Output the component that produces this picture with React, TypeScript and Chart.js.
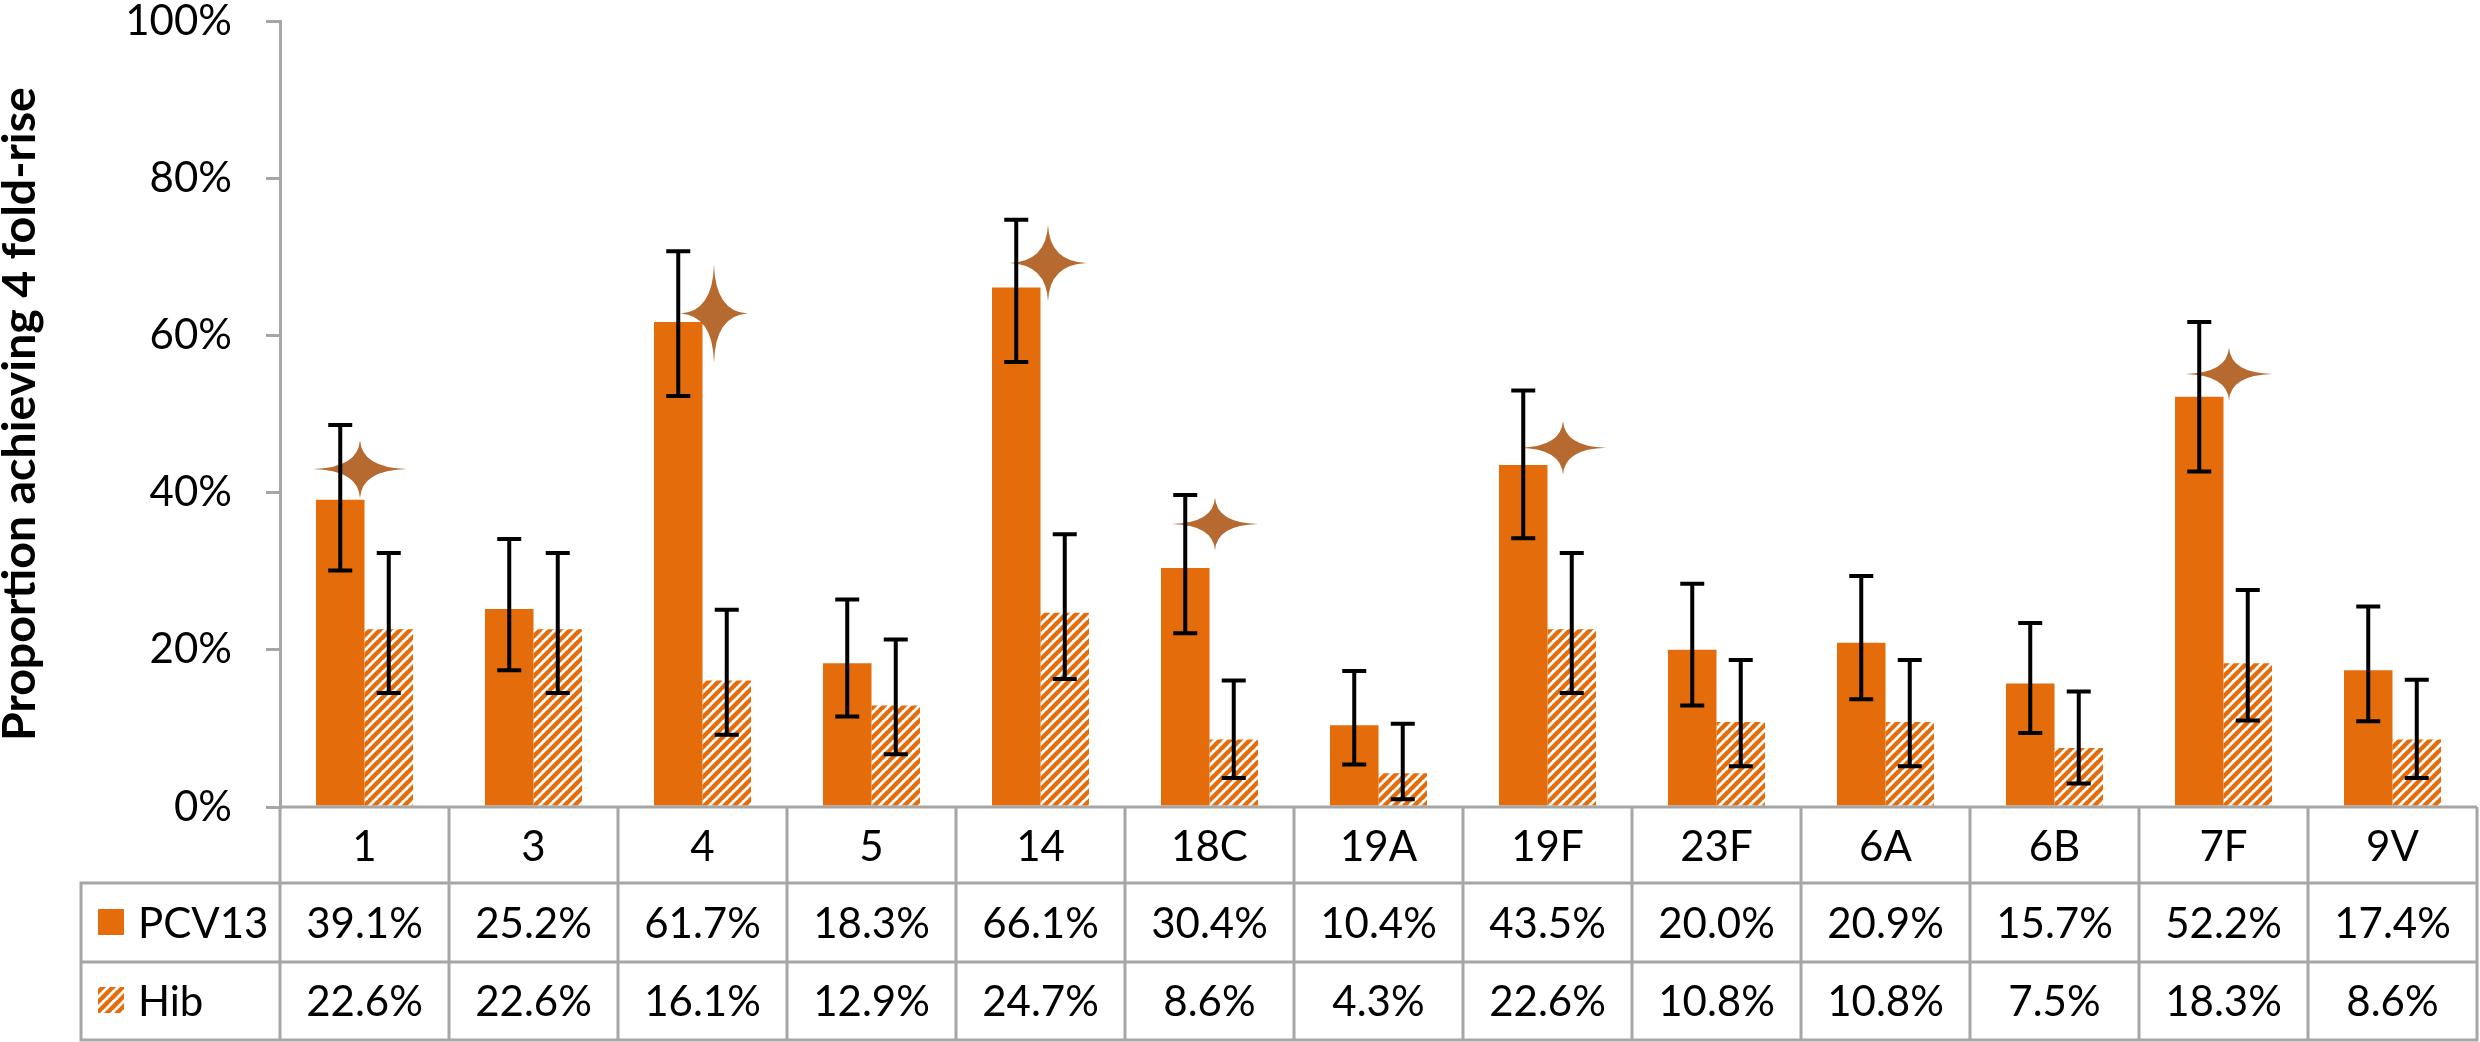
import React, { useEffect, useRef } from 'react';
import { Chart, registerables } from 'chart.js';

Chart.register(...registerables);

// ---------------- data ----------------
const categories = ['1', '3', '4', '5', '14', '18C', '19A', '19F', '23F', '6A', '6B', '7F', '9V'];
const seriesNames = ['PCV13', 'Hib'];
const pcv13 = [39.1, 25.2, 61.7, 18.3, 66.1, 30.4, 10.4, 43.5, 20.0, 20.9, 15.7, 52.2, 17.4];
const hib = [22.6, 22.6, 16.1, 12.9, 24.7, 8.6, 4.3, 22.6, 10.8, 10.8, 7.5, 18.3, 8.6];
const pcv13Low = [30.1, 17.4, 52.3, 11.5, 56.6, 22.1, 5.4, 34.2, 12.9, 13.7, 9.4, 42.7, 10.9];
const pcv13High = [48.6, 34.1, 70.7, 26.4, 74.7, 39.7, 17.3, 53.0, 28.4, 29.4, 23.4, 61.7, 25.5];
const hibLow = [14.5, 14.5, 9.2, 6.7, 16.3, 3.7, 1.0, 14.5, 5.2, 5.2, 3.0, 11.0, 3.7];
const hibHigh = [32.3, 32.3, 25.1, 21.3, 34.7, 16.1, 10.6, 32.3, 18.7, 18.7, 14.7, 27.6, 16.2];
const yTicks = [0, 20, 40, 60, 80, 100];
const starCategories = [0, 2, 4, 5, 7, 11];
const starValues = [43.0, 62.8, 69.2, 36.0, 45.7, 55.1];
const yTitle = 'Proportion achieving 4 fold-rise';

// ---------------- styles ----------------
const ORANGE = '#E46C0A';
const STAR = '#B66A2F';
const GRID = '#A6A6A6';
const FONT = 'Lato';
const FS = 42;
// star shapes (shift from category centre, width, height) in px
const starShift = [-4.5, 11.5, 7.5, 5.5, 15.5, 5.5];
const starW = [94, 67, 77, 86, 86, 87];
const starH = [58, 98, 77, 53, 54, 53];

function makeHatch(): CanvasPattern | string {
  const p = 10;
  const c = document.createElement('canvas');
  c.width = p;
  c.height = p;
  const g = c.getContext('2d');
  if (!g) return ORANGE;
  g.fillStyle = '#ffffff';
  g.fillRect(0, 0, p, p);
  g.strokeStyle = ORANGE;
  g.lineWidth = 4.4;
  g.beginPath();
  for (const k of [-1, 0, 1]) {
    g.moveTo(k * p - 1, p + 1);
    g.lineTo(k * p + p + 1, -1);
  }
  g.stroke();
  const pat = g.createPattern(c, 'repeat');
  return pat || ORANGE;
}

function drawStar(ctx: CanvasRenderingContext2D, cx: number, cy: number, w: number, h: number) {
  const a = w / 2, b = h / 2;
  const k = 0.02;
  ctx.beginPath();
  ctx.moveTo(cx, cy - b);
  ctx.quadraticCurveTo(cx + w * k, cy - h * k, cx + a, cy);
  ctx.quadraticCurveTo(cx + w * k, cy + h * k, cx, cy + b);
  ctx.quadraticCurveTo(cx - w * k, cy + h * k, cx - a, cy);
  ctx.quadraticCurveTo(cx - w * k, cy - h * k, cx, cy - b);
  ctx.closePath();
  ctx.fill();
}

export default function App() {
  const ref = useRef<HTMLCanvasElement | null>(null);

  useEffect(() => {
    document.body.style.margin = '0';
    const canvas = ref.current;
    if (!canvas) return;
    const hatch = makeHatch();

    const overlay = {
      id: 'overlay',
      afterDatasetsDraw(chart: any) {
        const ctx: CanvasRenderingContext2D = chart.ctx;
        const ys = chart.scales.y;
        const xs = chart.scales.x;
        ctx.save();
        // stars
        ctx.fillStyle = STAR;
        starCategories.forEach((ci, k) => {
          const cx = xs.getPixelForValue(ci) + starShift[k];
          const cy = ys.getPixelForValue(starValues[k]);
          drawStar(ctx, cx, cy, starW[k], starH[k]);
        });
        // error bars
        ctx.strokeStyle = '#000000';
        ctx.lineWidth = 4;
        const cap = 12;
        const drawErr = (meta: any, lo: number[], hi: number[]) => {
          meta.data.forEach((el: any, i: number) => {
            const x = el.x;
            const yl = ys.getPixelForValue(lo[i]);
            const yh = ys.getPixelForValue(hi[i]);
            ctx.beginPath();
            ctx.moveTo(x, yl);
            ctx.lineTo(x, yh);
            ctx.moveTo(x - cap, yh);
            ctx.lineTo(x + cap, yh);
            ctx.moveTo(x - cap, yl);
            ctx.lineTo(x + cap, yl);
            ctx.stroke();
          });
        };
        drawErr(chart.getDatasetMeta(0), pcv13Low, pcv13High);
        drawErr(chart.getDatasetMeta(1), hibLow, hibHigh);
        ctx.restore();
      },
      afterDraw(chart: any) {
        const ctx: CanvasRenderingContext2D = chart.ctx;
        const area = chart.chartArea;
        const xs = chart.scales.x;
        const n = categories.length;
        const cw = (area.right - area.left) / n;
        const top = area.bottom;
        const r1 = top + 76;
        const r2 = r1 + 79;
        const r3 = r2 + 78;
        const tableLeft = 81;
        ctx.save();
        ctx.strokeStyle = GRID;
        ctx.lineWidth = 3;
        ctx.beginPath();
        // horizontal lines
        ctx.moveTo(area.left, top);
        ctx.lineTo(area.right, top);
        ctx.moveTo(tableLeft - 1.5, r1);
        ctx.lineTo(area.right, r1);
        ctx.moveTo(tableLeft - 1.5, r2);
        ctx.lineTo(area.right, r2);
        ctx.moveTo(tableLeft - 1.5, r3);
        ctx.lineTo(area.right + 1.5, r3);
        // vertical lines
        for (let i = 0; i <= n; i++) {
          const x = area.left + i * cw;
          ctx.moveTo(x, top);
          ctx.lineTo(x, r3);
        }
        ctx.moveTo(tableLeft, r1);
        ctx.lineTo(tableLeft, r3);
        ctx.stroke();

        // texts
        ctx.fillStyle = '#000000';
        ctx.font = `${FS}px ${FONT}`;
        ctx.textAlign = 'center';
        ctx.textBaseline = 'alphabetic';
        categories.forEach((c, i) => {
          const x = xs.getPixelForValue(i);
          ctx.fillText(c, x, top + 54);
          ctx.fillText(`${pcv13[i].toFixed(1)}%`, x, r1 + 55);
          ctx.fillText(`${hib[i].toFixed(1)}%`, x, r2 + 54);
        });
        // legend keys
        ctx.textAlign = 'left';
        ctx.fillText(seriesNames[0], 138, r1 + 55);
        ctx.fillText(seriesNames[1], 138, r2 + 54);
        ctx.fillStyle = ORANGE;
        ctx.fillRect(98, r1 + 26, 26, 26);
        ctx.fillStyle = hatch as any;
        ctx.fillRect(98, r2 + 25, 26, 26);

        // y-axis title
        ctx.fillStyle = '#000000';
        let fs = 40;
        ctx.font = `bold ${fs}px ${FONT}`;
        const wMeasured = ctx.measureText(yTitle).width;
        fs = (fs * 654) / wMeasured;
        ctx.font = `bold ${fs}px ${FONT}`;
        ctx.translate(35, (area.top + area.bottom) / 2);
        ctx.rotate(-Math.PI / 2);
        ctx.textAlign = 'center';
        ctx.textBaseline = 'alphabetic';
        ctx.fillText(yTitle, 0, 0);
        ctx.restore();
      },
    };

    const chart = new Chart(canvas, {
      type: 'bar',
      data: {
        labels: categories,
        datasets: [
          { label: seriesNames[0], data: pcv13, backgroundColor: ORANGE, borderWidth: 0 },
          { label: seriesNames[1], data: hib, backgroundColor: hatch as any, borderWidth: 0 },
        ],
      },
      options: {
        animation: false,
        responsive: true,
        maintainAspectRatio: false,
        devicePixelRatio: 1,
        layout: { padding: { left: 0, right: 3, top: 21, bottom: 235 } },
        plugins: { legend: { display: false }, tooltip: { enabled: false } },
        datasets: { bar: { categoryPercentage: 0.574, barPercentage: 1.0 } },
        scales: {
          x: { type: 'category', display: false, offset: true },
          y: {
            min: 0,
            max: 100,
            afterFit(scale: any) {
              scale.width = 280;
              scale.paddingTop = 0;
              scale.paddingBottom = 0;
            },
            afterBuildTicks(scale: any) {
              scale.ticks = yTicks.map((v) => ({ value: v }));
            },
            ticks: {
              padding: 34,
              color: '#000000',
              font: { family: FONT, size: FS, lineHeight: 1.0 },
              callback: (v: any) => `${v}%`,
            },
            grid: {
              drawOnChartArea: false,
              drawTicks: true,
              tickLength: 14,
              color: GRID,
              lineWidth: 3,
            },
            border: { display: true, color: GRID, width: 3 },
          },
        },
      },
      plugins: [overlay],
    } as any);

    if ((document as any).fonts && (document as any).fonts.ready) {
      (document as any).fonts.ready.then(() => {
        try { chart.update(); } catch (e) { /* ignore */ }
      });
    }
    return () => chart.destroy();
  }, []);

  return (
    <div style={{ width: 2480, height: 1042, position: 'relative' }}>
      <canvas ref={ref} />
    </div>
  );
}
